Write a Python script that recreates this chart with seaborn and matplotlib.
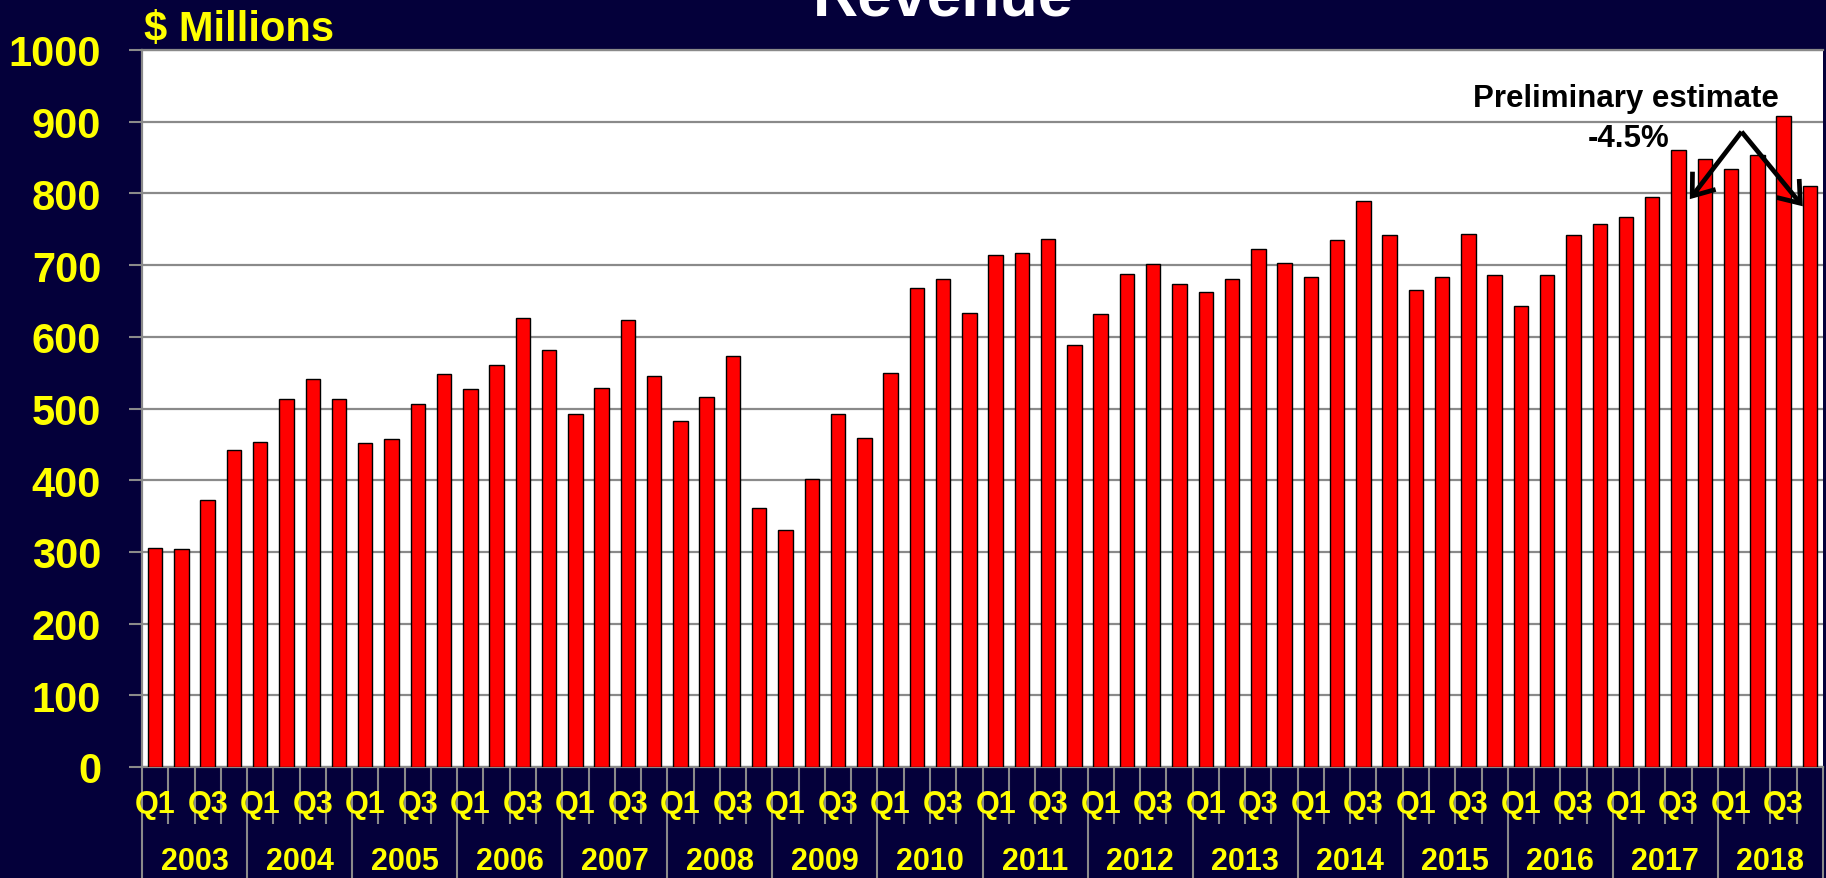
import numpy as np
import pandas as pd
import matplotlib
matplotlib.use("Agg")
import matplotlib.pyplot as plt
from matplotlib.patches import ArrowStyle
import seaborn as sns

# Quarterly revenue, $ millions
years = list(range(2003, 2019))
quarters = ["Q1", "Q2", "Q3", "Q4"]
revenue = [
    306, 304, 373, 442,   # 2003
    453, 513, 541, 513,   # 2004
    452, 457, 506, 548,   # 2005
    527, 561, 626, 582,   # 2006
    492, 529, 624, 545,   # 2007
    482, 516, 573, 361,   # 2008
    331, 402, 492, 459,   # 2009
    549, 668, 680, 633,   # 2010
    714, 717, 737, 589,   # 2011
    632, 688, 701, 673,   # 2012
    663, 680, 723, 703,   # 2013
    684, 735, 790, 742,   # 2014
    665, 683, 744, 686,   # 2015
    643, 686, 742, 758,   # 2016
    767, 795, 861, 848,   # 2017
    834, 854, 908, 810,   # 2018
]
y_ticks = list(range(0, 1001, 100))
shown_quarters = ["Q1", "Q3"]

BG = "#04003a"
YELLOW = "#ffff00"
GRID = "#8a8a8a"

sns.set_style("white")
plt.rcParams["font.family"] = ["Liberation Sans", "DejaVu Sans"]
plt.rcParams["font.weight"] = "bold"

periods = [f"{y} {q}" for y in years for q in quarters]
df = pd.DataFrame({"period": periods, "revenue": revenue})

W, H = 1826, 879
fig = plt.figure(figsize=(W / 100, H / 100), dpi=100, facecolor=BG)
ax = fig.add_axes([142 / W, 111 / H, (1823 - 142) / W, (768 - 51) / H])
ax.set_facecolor("white")

sns.barplot(data=df, x="period", y="revenue", order=periods,
            color="#ff0000", saturation=1, edgecolor="black",
            linewidth=1.0, width=0.55, ax=ax, zorder=3)

n = len(periods)
ax.set_xlim(-0.5, n - 0.5)
ax.set_ylim(0, 1000)
ax.set_xlabel("")
ax.set_ylabel("")

# horizontal grid
ax.yaxis.grid(True, color=GRID, linewidth=1.6)
ax.xaxis.grid(False)
ax.set_axisbelow(True)
for side in ["left", "bottom", "top"]:
    ax.spines[side].set_color(GRID)
    ax.spines[side].set_linewidth(1.6)
ax.spines["right"].set_visible(False)

# y axis
ax.set_yticks(y_ticks)
ax.set_yticklabels([str(v) for v in y_ticks])
ax.tick_params(axis="y", left=True, length=9.4, width=1.5, color=GRID,
               pad=20, labelsize=30, labelcolor=YELLOW)

# x axis: long ticks between years, short ticks between quarters
year_edges = [4 * k - 0.5 for k in range(len(years) + 1)]
quarter_edges = [i + 0.5 for i in range(n - 1) if (i + 1) % 4 != 0]
ax.set_xticks(year_edges)
ax.set_xticklabels([""] * len(year_edges))
ax.set_xticks(quarter_edges, minor=True)
ax.tick_params(axis="x", which="major", bottom=True, length=80, width=1.5,
               color=GRID)
ax.tick_params(axis="x", which="minor", bottom=True, length=41, width=1.5,
               color=GRID)

for i, p in enumerate(periods):
    q = p.split()[1]
    if q in shown_quarters:
        ax.annotate(q, xy=(i, 0), xycoords=("data", "axes fraction"),
                    xytext=(0, -37), textcoords="offset pixels",
                    ha="center", va="center", fontsize=22, color=YELLOW,
                    annotation_clip=False)
for k, y in enumerate(years):
    ax.annotate(str(y), xy=(4 * k + 1.5, 0), xycoords=("data", "axes fraction"),
                xytext=(0, -94), textcoords="offset pixels",
                ha="center", va="center", fontsize=22, color=YELLOW,
                annotation_clip=False)

# annotation for the preliminary estimate
ax.text(56.0, 933, "Preliminary estimate", ha="center", va="center",
        fontsize=22.5, color="black", zorder=5)
ax.text(56.1, 877, "-4.5%", ha="center", va="center",
        fontsize=22.5, color="black", zorder=5)
arrow = dict(arrowstyle=ArrowStyle("->", head_length=0.4, head_width=0.3),
             lw=3.4, color="black", mutation_scale=35,
             shrinkA=0, shrinkB=0, joinstyle="miter", capstyle="butt")
apex = (60.4, 886)
ax.annotate("", xy=(58.43, 792), xytext=apex, arrowprops=arrow, zorder=6)
ax.annotate("", xy=(62.73, 782), xytext=apex, arrowprops=arrow, zorder=6)

# titles
fig.text(943 / W, 1 - 15 / H, "Revenue", ha="center", va="baseline",
         fontsize=45, color="white")
fig.text(144 / W, 1 - 41 / H, "$ Millions", ha="left", va="baseline",
         fontsize=30, color=YELLOW)

fig.savefig("out.png", dpi=100, facecolor=BG)
